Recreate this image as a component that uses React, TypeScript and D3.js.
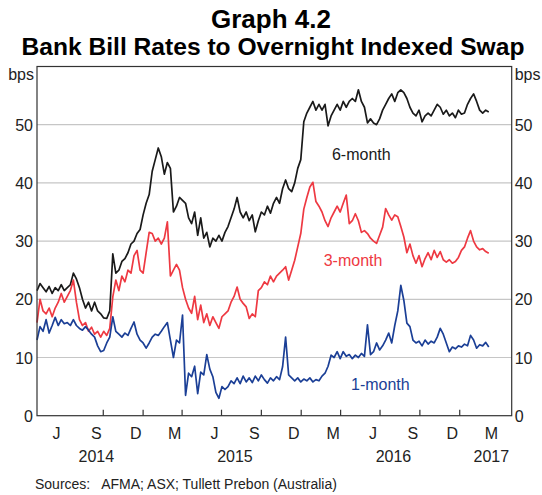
import React from "react";
import * as d3 from "d3";

// ---- data (weekly observations, bps) ----
const startDate = new Date(2014, 4, 1);
const sixMonth = [
  21.5, 22.7, 22.0, 21.3, 22.2, 21.0, 22.0, 21.5, 22.5, 21.5,
  22.0, 22.5, 24.5, 23.5, 22.0, 20.0, 18.5, 19.5, 18.0, 19.5,
  18.0, 17.5, 16.8, 16.7, 18.0, 27.8, 24.5, 25.0, 26.5, 27.0,
  28.0, 29.5, 30.0, 31.3, 32.0, 34.5, 36.5, 38.0, 42.0, 44.0,
  46.0, 44.5, 41.5, 43.5, 42.5, 35.0, 36.0, 37.5, 37.0, 36.5,
  34.0, 33.0, 35.0, 31.0, 34.0, 30.5, 31.5, 29.0, 30.5, 30.0,
  31.0, 30.0, 31.5, 32.5, 34.0, 35.5, 37.5, 35.0, 34.0, 35.0,
  33.5, 34.5, 31.6, 33.5, 35.0, 34.5, 36.0, 34.8, 36.5, 37.5,
  36.5, 39.0, 40.5, 39.0, 38.5, 40.0, 42.5, 44.0, 50.5, 52.0,
  53.0, 54.0, 52.5, 53.5, 52.5, 53.5, 49.8, 51.5, 52.5, 53.5,
  52.5, 54.0, 53.0, 54.0, 54.5, 54.0, 56.0, 54.0, 53.0, 50.3,
  51.0, 50.3, 50.0, 51.0, 52.5, 53.5, 54.5, 55.3, 54.0, 55.5,
  56.0, 55.5, 54.5, 53.0, 52.0, 51.5, 52.5, 50.5, 51.5, 52.0,
  51.5, 52.5, 53.5, 53.0, 51.8, 52.5, 51.5, 52.0, 51.2, 52.5,
  51.8, 52.0, 53.5, 54.5, 55.3, 54.0, 52.5, 52.0, 52.5, 52.2,
];
const threeMonth = [
  16.0, 20.0, 18.0, 17.5, 18.5, 17.0, 18.5, 19.5, 21.0, 19.5,
  20.5, 21.5, 23.3, 19.5, 16.5, 15.5, 16.0, 14.5, 15.2, 14.0,
  14.5, 13.5, 14.5, 13.8, 15.0, 20.4, 23.3, 21.5, 24.0, 23.0,
  25.0, 24.5, 27.5, 28.4, 25.0, 24.5, 28.0, 31.5, 31.3, 30.0,
  30.5, 29.5, 30.5, 33.3, 24.0, 25.0, 26.0, 25.0, 22.0, 20.0,
  18.5, 17.6, 20.5, 16.5, 19.0, 16.0, 17.5, 15.5, 17.0, 16.0,
  15.0, 17.0, 17.5, 18.0, 19.5, 20.5, 22.1, 20.0, 19.3, 18.7,
  16.7, 17.5, 17.0, 21.5, 22.0, 23.0, 22.5, 24.0, 23.0, 24.0,
  24.5, 25.0, 25.6, 23.3, 25.0, 26.7, 29.0, 31.3, 35.5, 37.5,
  39.3, 40.1, 36.8, 36.0, 35.0, 33.5, 32.5, 34.0, 35.0, 36.0,
  35.0, 36.5, 37.9, 33.0, 33.5, 34.7, 33.5, 31.5, 31.8, 31.3,
  30.5, 30.0, 29.6, 31.0, 32.4, 35.6, 34.5, 33.6, 34.5, 34.2,
  32.5, 30.7, 28.0, 29.5, 27.5, 26.2, 27.5, 25.6, 27.0, 28.0,
  26.8, 28.4, 27.2, 28.2, 26.8, 26.4, 26.8, 26.2, 26.5, 27.2,
  28.4, 29.0, 30.5, 31.8, 30.0, 29.0, 28.5, 28.7, 28.2, 27.9,
];
const oneMonth = [
  13.0, 15.3, 14.5, 16.5, 14.2, 15.5, 16.9, 15.5, 16.5, 15.8,
  16.0, 15.5, 16.5, 15.5, 15.0, 14.7, 15.3, 14.7, 14.0, 13.5,
  12.0, 11.0, 11.2, 12.5, 13.5, 17.0, 14.5, 14.0, 13.5, 14.2,
  13.8, 15.0, 16.1, 14.0, 13.0, 12.5, 11.6, 12.5, 13.5, 14.0,
  13.8, 14.5, 15.3, 16.0, 13.0, 10.0, 13.0, 12.5, 17.3, 3.5,
  7.3, 6.7, 8.5, 3.8, 7.5, 7.0, 10.5, 8.0, 6.7, 4.0,
  3.0, 5.0, 4.5, 5.0, 6.0, 5.5, 6.5, 5.5, 6.8, 5.8,
  6.5, 5.7, 6.8, 6.0, 7.0, 6.2, 5.6, 6.5, 6.0, 6.7,
  6.2, 8.4, 13.5, 7.0, 6.5, 6.0, 6.5, 5.8, 6.3, 6.0,
  6.5, 5.8, 6.2, 6.0, 6.8, 7.3, 8.5, 10.4, 10.0, 11.0,
  9.8, 11.0, 10.2, 10.5, 9.8, 10.4, 10.0, 10.7, 10.2, 15.6,
  10.5, 11.0, 12.5, 11.3, 12.0, 13.0, 14.2, 12.5, 15.5, 18.0,
  22.4, 19.8, 15.9, 15.3, 13.0, 12.5, 12.8, 12.0, 13.0, 12.3,
  12.8, 12.5, 13.5, 15.0, 14.0, 12.5, 11.0, 11.8, 11.5, 12.0,
  11.8, 12.3, 12.0, 13.8, 13.0, 11.6, 12.2, 12.0, 12.6, 11.8,
];
const yTicks = [0, 10, 20, 30, 40, 50];
const monthLabels = [
  { label: "J", date: new Date(2014, 5, 15) },
  { label: "S", date: new Date(2014, 8, 15) },
  { label: "D", date: new Date(2014, 11, 15) },
  { label: "M", date: new Date(2015, 2, 15) },
  { label: "J", date: new Date(2015, 5, 15) },
  { label: "S", date: new Date(2015, 8, 15) },
  { label: "D", date: new Date(2015, 11, 15) },
  { label: "M", date: new Date(2016, 2, 15) },
  { label: "J", date: new Date(2016, 5, 15) },
  { label: "S", date: new Date(2016, 8, 15) },
  { label: "D", date: new Date(2016, 11, 15) },
  { label: "M", date: new Date(2017, 2, 15) },
];
const yearLabels = [
  { label: "2014", date: new Date(2014, 8, 15) },
  { label: "2015", date: new Date(2015, 7, 1) },
  { label: "2016", date: new Date(2016, 7, 1) },
  { label: "2017", date: new Date(2017, 2, 15) },
];
const seriesInfo = [
  { name: "6-month", values: sixMonth, color: "#1a1a1a", labelDate: new Date(2016, 2, 12), labelValue: 44.0 },
  { name: "3-month", values: threeMonth, color: "#ee3942", labelDate: new Date(2016, 1, 22), labelValue: 25.7 },
  { name: "1-month", values: oneMonth, color: "#1b3f96", labelDate: new Date(2016, 3, 25), labelValue: 4.4 },
];

const W = 542, H = 495;
const M = { left: 37, right: 30.3, top: 66.5, bottom: 79.3 };
const FONT = "Arial, 'Liberation Sans', Helvetica, sans-serif";

export default function App() {
  const x = d3.scaleTime()
    .domain([new Date(2014, 4, 1), new Date(2017, 4, 1)])
    .range([M.left, W - M.right]);
  const y = d3.scaleLinear().domain([0, 60]).range([H - M.bottom, M.top]);
  const dateAt = (i: number) => d3.timeDay.offset(startDate, i * 7);
  const line = d3.line<number>()
    .x((_, i) => x(dateAt(i)))
    .y((d) => y(d));
  const ticks = d3.timeMonth.every(3)!.range(new Date(2014, 7, 1), new Date(2017, 3, 1));
  const x0 = M.left, x1 = W - M.right, yb = H - M.bottom, yt = M.top;

  return (
    <div style={{ position: "fixed", left: 0, top: 0 }}>
      <svg width={W} height={H} style={{ display: "block", background: "#fff" }} fontFamily={FONT}>
        <text x={W / 2} y={28} textAnchor="middle" fontWeight="bold" fontSize={26}>Graph 4.2</text>
        <text x={W / 2 + 2} y={55} textAnchor="middle" fontWeight="bold" fontSize={24.6}>
          Bank Bill Rates to Overnight Indexed Swap
        </text>
        {yTicks.filter((t) => t > 0).map((t) => (
          <line key={"g" + t} x1={x0} x2={x1} y1={y(t)} y2={y(t)} stroke="#c6c6c6" strokeWidth={1.2} />
        ))}
        {seriesInfo.map((s) => (
          <path key={s.name} d={line(s.values) || ""} fill="none" stroke={s.color} strokeWidth={1.7} strokeLinejoin="round" />
        ))}
        <rect x={x0} y={yt} width={x1 - x0} height={yb - yt} fill="none" stroke="#333" strokeWidth={1.2} />
        {ticks.map((t, i) => (
          <line key={"t" + i} x1={x(t)} x2={x(t)} y1={yb} y2={yb - 6} stroke="#333" strokeWidth={1.2} />
        ))}
        {yTicks.map((t) => (
          <g key={"yl" + t} fontSize={16} fill="#222">
            <text x={x0 - 4} y={y(t) + 6} textAnchor="end">{t}</text>
            <text x={x1 + 3} y={y(t) + 6} textAnchor="start">{t}</text>
          </g>
        ))}
        <text x={x0 - 3} y={80} textAnchor="end" fontSize={16} fill="#222">bps</text>
        <text x={x1 + 3} y={80} textAnchor="start" fontSize={16} fill="#222">bps</text>
        {monthLabels.map((m, i) => (
          <text key={"m" + i} x={x(m.date)} y={439} textAnchor="middle" fontSize={16} fill="#222">{m.label}</text>
        ))}
        {yearLabels.map((m, i) => (
          <text key={"yr" + i} x={x(m.date)} y={462} textAnchor="middle" fontSize={16} fill="#222">{m.label}</text>
        ))}
        {seriesInfo.map((s) => (
          <text key={"l" + s.name} x={x(s.labelDate)} y={y(s.labelValue)} fontSize={16} fill={s.color}>{s.name}</text>
        ))}
        <text x={35} y={489} fontSize={14} fill="#222" xmlSpace="preserve">Sources:   AFMA; ASX; Tullett Prebon (Australia)</text>
      </svg>
    </div>
  );
}
